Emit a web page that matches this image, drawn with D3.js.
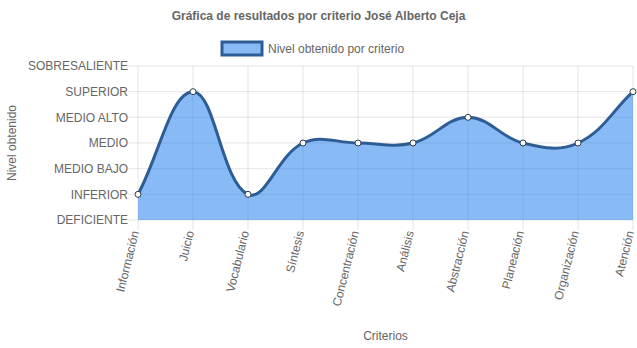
<!DOCTYPE html>
<html>
<head>
<meta charset="utf-8">
<script src="https://cdn.jsdelivr.net/npm/d3@7"></script>
<style>
  body { margin: 0; background: #fff; }
  text { font-family: "Liberation Sans", Arial, Helvetica, sans-serif; fill: #666; }
</style>
</head>
<body>
<script>
// data
const criterios = ['Información', 'Juicio', 'Vocabulario', 'Síntesis', 'Concentración',
                   'Análisis', 'Abstracción', 'Planeación', 'Organización', 'Atención']
const niveles = ['DEFICIENTE', 'INFERIOR', 'MEDIO BAJO', 'MEDIO', 'MEDIO ALTO', 'SUPERIOR', 'SOBRESALIENTE']
const valores = [1, 5, 1, 3, 3, 3, 4, 3, 3, 5]

const outerWidth = 637, outerHeight = 348
const margin = {left:138, top:66, right:4, bottom:128}
const width = outerWidth - margin.left - margin.right
const height = outerHeight - margin.top - margin.bottom

const svg = d3.select("body").append("svg")
              .attr("width", outerWidth)
              .attr("height", outerHeight)

const canvas = svg.append("g")
                  .attr("transform", `translate(${margin.left}, ${margin.top})`)

const x = d3.scalePoint().domain(criterios).range([0, width])
const y = d3.scaleLinear().domain([0, niveles.length - 1]).range([height, 0])

const grid = "rgba(0,0,0,0.1)"

// horizontal grid + y tick marks
canvas.selectAll(".ygrid")
      .data(niveles)
      .join("line")
      .attr("class", "ygrid")
      .attr("x1", -10).attr("x2", width)
      .attr("y1", (d,i) => y(i)).attr("y2", (d,i) => y(i))
      .style("stroke", grid)

// vertical grid + x tick marks
canvas.selectAll(".xgrid")
      .data(criterios)
      .join("line")
      .attr("class", "xgrid")
      .attr("x1", d => x(d)).attr("x2", d => x(d))
      .attr("y1", 0).attr("y2", height + 10)
      .style("stroke", grid)

// y tick labels
canvas.selectAll(".ylab")
      .data(niveles)
      .join("text")
      .attr("class", "ylab")
      .attr("x", -10)
      .attr("y", (d,i) => y(i))
      .attr("dy", "0.35em")
      .attr("text-anchor", "end")
      .style("font-size", "12px")
      .text(d => d)

// x tick labels, rotated
canvas.selectAll(".xlab")
      .data(criterios)
      .join("text")
      .attr("class", "xlab")
      .attr("transform", d => `translate(${x(d) - 3}, ${height + 11}) rotate(-76)`)
      .attr("dy", "0.35em")
      .attr("text-anchor", "end")
      .style("font-size", "12px")
      .text(d => d)

// Chart.js style spline (tension 0.4)
const pts = valores.map((v,i) => ({x: x(criterios[i]), y: y(v)}))
const tension = 0.4
pts.forEach((p, i) => {
    const prev = pts[i-1] || p, next = pts[i+1] || p
    const d01 = Math.hypot(p.x - prev.x, p.y - prev.y)
    const d12 = Math.hypot(next.x - p.x, next.y - p.y)
    let s01 = d01 / (d01 + d12), s12 = d12 / (d01 + d12)
    if (isNaN(s01)) s01 = 0
    if (isNaN(s12)) s12 = 0
    const fa = tension * s01, fb = tension * s12
    const clampY = v => Math.max(0, Math.min(height, v))
    p.cpPrev = {x: p.x - fa * (next.x - prev.x), y: clampY(p.y - fa * (next.y - prev.y))}
    p.cpNext = {x: p.x + fb * (next.x - prev.x), y: clampY(p.y + fb * (next.y - prev.y))}
})

let linePath = `M${pts[0].x},${pts[0].y}`
for (let i = 1; i < pts.length; i++) {
    const a = pts[i-1], b = pts[i]
    linePath += `C${a.cpNext.x},${a.cpNext.y} ${b.cpPrev.x},${b.cpPrev.y} ${b.x},${b.y}`
}
const areaPath = linePath + `L${pts[pts.length-1].x},${height}L${pts[0].x},${height}Z`

canvas.append("path")
      .attr("d", areaPath)
      .style("fill", "rgba(17,119,238,0.5)")

canvas.append("path")
      .attr("d", linePath)
      .style("fill", "none")
      .style("stroke", "#2d5d94")
      .style("stroke-width", 3)

canvas.selectAll(".punto")
      .data(pts)
      .join("circle")
      .attr("class", "punto")
      .attr("cx", d => d.x)
      .attr("cy", d => d.y)
      .attr("r", 3)
      .style("fill", "#fff")
      .style("stroke", "#2d3d50")
      .style("stroke-width", 1)

// title
svg.append("text")
   .attr("x", 318.5).attr("y", 20)
   .attr("text-anchor", "middle")
   .style("font-size", "12px")
   .style("font-weight", "bold")
   .text("Gráfica de resultados por criterio José Alberto Ceja")

// legend
const legend = svg.append("g").attr("transform", "translate(222, 42)")
legend.append("rect")
      .attr("width", 40).attr("height", 13)
      .style("fill", "rgba(17,119,238,0.5)")
      .style("stroke", "#2d5d94")
      .style("stroke-width", 3)
legend.append("text")
      .attr("x", 46).attr("y", 6.5)
      .attr("dy", "0.35em")
      .style("font-size", "12px")
      .text("Nivel obtenido por criterio")

// axis titles
svg.append("text")
   .attr("transform", "translate(16, 143) rotate(-90)")
   .attr("text-anchor", "middle")
   .style("font-size", "12px")
   .text("Nivel obtenido")

svg.append("text")
   .attr("x", margin.left + width / 2).attr("y", 340)
   .attr("text-anchor", "middle")
   .style("font-size", "12px")
   .text("Criterios")
</script>
</body>
</html>
